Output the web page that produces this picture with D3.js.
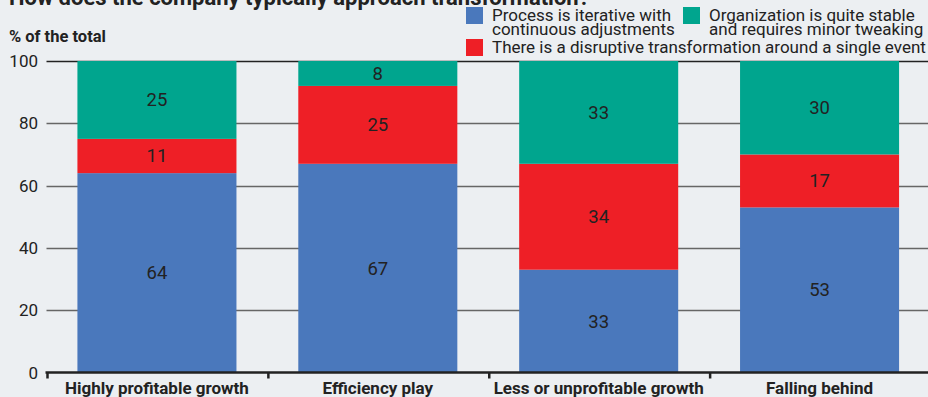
<!DOCTYPE html>
<html>
<head>
<meta charset="utf-8">
<script src="https://cdn.jsdelivr.net/npm/d3@7"></script>
<style>
  html, body { margin: 0; padding: 0; background: #eceff2; }
  svg { display: block; font-family: Roboto, "Liberation Sans", Arial, sans-serif; }
</style>
</head>
<body>
<svg id="chart" width="928" height="397"></svg>
<script>
const categories = ["Highly profitable growth", "Efficiency play", "Less or unprofitable growth", "Falling behind"];
const seriesNames = ["Process is iterative with continuous adjustments",
                     "There is a disruptive transformation around a single event",
                     "Organization is quite stable and requires minor tweaking"];
const iterative = [64, 67, 33, 53];
const disruptive = [11, 25, 34, 17];
const stable = [25, 8, 33, 30];
const yTicks = [0, 20, 40, 60, 80, 100];
const colors = ["#4a78bc", "#ee1f26", "#00a58e"];

const svg = d3.select("#chart");
const W = 928, H = 397;
svg.append("rect").attr("width", W).attr("height", H).attr("fill", "#eceff2");

const y = d3.scaleLinear().domain([0, 100]).range([372.5, 61]);
const x = d3.scaleBand().domain(categories).range([46.5, 930]).paddingInner(0.28).paddingOuter(0.14);

// title (cut off at top, as in the reference)
svg.append("text").attr("x", 9).attr("y", 5)
  .attr("font-size", 22).attr("font-weight", "bold").attr("fill", "#222")
  .text("How does the company typically approach transformation?");

svg.append("text").attr("x", 9).attr("y", 41.5)
  .attr("font-size", 16.5).attr("font-weight", "bold").attr("fill", "#222")
  .text("% of the total");

// gridlines
const grid = svg.append("g");
grid.selectAll("line").data(yTicks.filter(d => d > 0)).join("line")
  .attr("x1", 46.5).attr("x2", W)
  .attr("y1", d => Math.round(y(d)) + 0.5).attr("y2", d => Math.round(y(d)) + 0.5)
  .attr("stroke", d => d === 100 ? "#222" : "#666").attr("stroke-width", 1.3);

// y tick labels
svg.append("g").selectAll("text").data(yTicks).join("text")
  .attr("x", 38).attr("y", d => y(d)).attr("dy", "0.36em")
  .attr("text-anchor", "end").attr("font-size", 17).attr("fill", "#222")
  .text(d => d);

// stacked data
const table = categories.map((c, i) => ({ cat: c, s0: iterative[i], s1: disruptive[i], s2: stable[i] }));
const stack = d3.stack().keys(["s0", "s1", "s2"])(table);

const layers = svg.append("g").selectAll("g").data(stack).join("g")
  .attr("fill", (d, i) => colors[i]);
layers.selectAll("rect").data(d => d).join("rect")
  .attr("x", d => x(d.data.cat)).attr("width", x.bandwidth())
  .attr("y", d => y(d[1])).attr("height", d => y(d[0]) - y(d[1]));

// value labels
const labels = svg.append("g");
stack.forEach(layer => {
  labels.selectAll(null).data(layer).join("text")
    .attr("x", d => x(d.data.cat) + x.bandwidth() / 2)
    .attr("y", d => y((d[0] + d[1]) / 2)).attr("dy", "0.35em")
    .attr("text-anchor", "middle").attr("font-size", 18.5).attr("fill", "#222")
    .text(d => d[1] - d[0]);
});

// x axis
const axisY = 372.5;
svg.append("line").attr("x1", 45.5).attr("x2", W).attr("y1", axisY).attr("y2", axisY)
  .attr("stroke", "#222").attr("stroke-width", 2.5);
const boundaries = d3.range(categories.length).map(i => x.range()[0] + i * x.step());
svg.append("g").selectAll("line").data(boundaries).join("line")
  .attr("x1", d => d + 1).attr("x2", d => d + 1).attr("y1", axisY).attr("y2", axisY + 6)
  .attr("stroke", "#222").attr("stroke-width", 2.5);
svg.append("g").selectAll("text").data(categories).join("text")
  .attr("x", d => x(d) + x.bandwidth() / 2).attr("y", 394)
  .attr("text-anchor", "middle").attr("font-size", 17).attr("font-weight", "bold").attr("fill", "#222")
  .text(d => d);

// legend
const legend = svg.append("g");
const legItems = [
  { c: colors[0], x: 466, y: 7, lines: ["Process is iterative with", "continuous adjustments"] },
  { c: colors[2], x: 683, y: 7, lines: ["Organization is quite stable", "and requires minor tweaking"] },
  { c: colors[1], x: 466, y: 39, lines: ["There is a disruptive transformation around a single event"] }
];
legItems.forEach(it => {
  legend.append("rect").attr("x", it.x).attr("y", it.y).attr("width", 17).attr("height", 17).attr("fill", it.c);
  it.lines.forEach((t, j) => {
    legend.append("text").attr("x", it.x + 26).attr("y", it.y + 13.5 + j * 14.5)
      .attr("font-size", 17).attr("fill", "#222").text(t);
  });
});
</script>
</body>
</html>
